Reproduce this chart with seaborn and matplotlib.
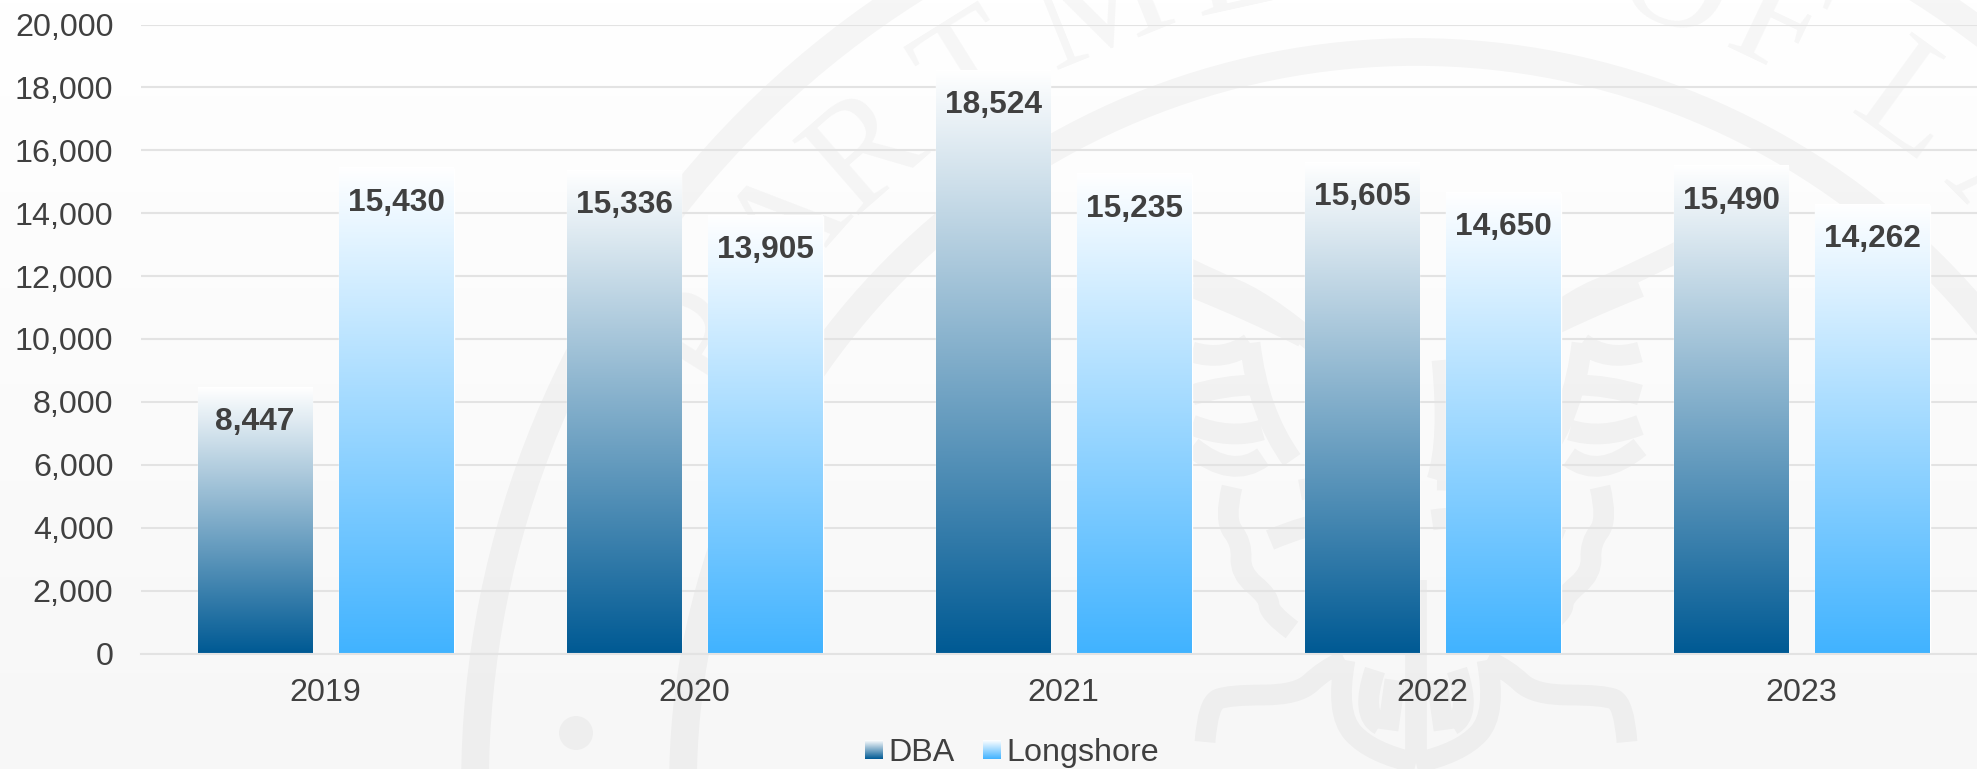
import matplotlib
matplotlib.use('Agg')
import matplotlib.pyplot as plt
import seaborn as sns
import numpy as np
import pandas as pd
from matplotlib.colors import LinearSegmentedColormap
from matplotlib.image import BboxImage
from matplotlib.legend_handler import HandlerBase
from matplotlib.patches import Circle, PathPatch
from matplotlib.path import Path
from matplotlib.transforms import Bbox, TransformedBbox

years = ['2019', '2020', '2021', '2022', '2023']
dba = [8447, 15336, 18524, 15605, 15490]
longshore = [15430, 13905, 15235, 14650, 14262]
y_ticks = list(range(0, 20001, 2000))

W, H = 1977, 769
TEXT = '#404040'
GRID = '#e3e3e3'
SEAL_X, SEAL_Y = 1416, 785
SEAL_ALPHA = 0.037

# seal letters: (letter, degrees from the top of the seal, minus is left)
seal_letters = [('P', -58), ('A', -48.5), ('R', -41), ('T', -32), ('M', -22), ('E', -12.5),
                ('N', -3.5), ('T', 6), ('O', 18), ('F', 25.5), ('L', 36), ('A', 45)]

# half of the eagle, mirrored around SEAL_X
left_strokes = [
    [(1130, 240), (1200, 275), (1272, 305), (1340, 365)],
    [(1192, 287), (1250, 310), (1303, 337)],
    [(1192, 352), (1225, 362), (1250, 343)],
    [(1192, 395), (1225, 385), (1255, 385)],
    [(1192, 425), (1230, 440), (1262, 430)],
    [(1250, 343), (1258, 413), (1292, 460)],
    [(1192, 447), (1232, 480), (1263, 457)],
    [(1232, 487), (1224, 520), (1242, 543), (1240, 573), (1269, 597), (1269, 613), (1292, 630)],
    [(1205, 742), (1208, 703), (1229, 695), (1298, 695), (1324, 670), (1345, 660)],
    [(1345, 660), (1335, 713), (1371, 753), (1416, 763)],
    [(1375, 670), (1360, 715), (1380, 725)],
    [(1395, 680), (1388, 730)],
    [(1390, 360), (1382, 440), (1395, 480)],
    [(1300, 490), (1350, 480), (1395, 480)],
    [(1270, 540), (1340, 510), (1400, 520)],
    [(1416, 580), (1416, 763)],
]


def smooth_path(pts):
    # quadratic curves through the midpoints, so the strokes have no corners
    if len(pts) < 3:
        return Path(pts)
    verts = [pts[0]]
    codes = [Path.MOVETO]
    for i in range(1, len(pts) - 1):
        end = pts[i + 1] if i == len(pts) - 2 else ((pts[i][0] + pts[i + 1][0]) / 2, (pts[i][1] + pts[i + 1][1]) / 2)
        verts += [pts[i], end]
        codes += [Path.CURVE3, Path.CURVE3]
    return Path(verts, codes)


sns.set_theme(style='white')
plt.rcParams['font.family'] = ['Liberation Sans', 'DejaVu Sans']

fig = plt.figure(figsize=(W / 100, H / 100), dpi=100)

# page background and the pale seal behind the chart
bg = fig.add_axes([0, 0, 1, 1], zorder=-1)
page = LinearSegmentedColormap.from_list('page', ['#ffffff', '#f7f7f7'])
bg.imshow(np.linspace(0, 1, 256).reshape(-1, 1), cmap=page, extent=[0, W, H, 0], aspect='auto')
bg.set_xlim(0, W)
bg.set_ylim(H, 0)
bg.axis('off')

for radius in [941, 733]:
    bg.add_patch(Circle((SEAL_X, SEAL_Y), radius, fill=False, lw=20, ec='black', alpha=SEAL_ALPHA))
bg.add_patch(Circle((576, 733), 17, fc='black', ec='none', alpha=SEAL_ALPHA))
for letter, angle in seal_letters:
    rad = np.radians(angle)
    bg.text(SEAL_X + 835 * np.sin(rad), SEAL_Y - 835 * np.cos(rad), letter, family='Liberation Serif',
            fontsize=110, rotation=-angle, rotation_mode='anchor', ha='center', va='center',
            color='black', alpha=SEAL_ALPHA)
eagle = []
for stroke in left_strokes:
    for side in [1, -1]:
        eagle.append(smooth_path([(SEAL_X + side * (x - SEAL_X), y) for x, y in stroke]))
bg.add_patch(PathPatch(Path.make_compound_path(*eagle), fill=False, lw=15, ec='black', alpha=SEAL_ALPHA,
                       capstyle='butt', joinstyle='round'))

# plot area runs a little past the right edge of the image
ax = fig.add_axes([141.2 / W, (H - 653.5) / H, 1845 / W, 629 / H])
ax.patch.set_visible(False)

df = pd.DataFrame({
    'year': years * 2,
    'count': dba + longshore,
    'series': ['DBA'] * 5 + ['Longshore'] * 5,
})
sns.barplot(data=df, x='year', y='count', hue='series', width=0.766, gap=0.188,
            palette={'DBA': '#005a94', 'Longshore': '#41b3ff'}, legend=False, ax=ax, zorder=2)

grad = np.linspace(0, 1, 256).reshape(-1, 1)
cmaps = [LinearSegmentedColormap.from_list('dba', ['#005a94', '#ffffff']),
         LinearSegmentedColormap.from_list('longshore', ['#41b3ff', '#ffffff'])]

for container, cmap in zip(ax.containers, cmaps):
    for bar in container:
        x0 = bar.get_x()
        ax.imshow(grad, cmap=cmap, origin='lower', aspect='auto', zorder=2.5,
                  extent=[x0, x0 + bar.get_width(), 0, bar.get_height()])
    ax.bar_label(container, fmt='{:,.0f}', padding=-35.5, fontsize=22.8, fontweight='bold',
                 color=TEXT, zorder=4)

ax.set_xlim(-0.5, 4.5)
ax.set_ylim(0, 20000)
ax.set_yticks(y_ticks)
ax.set_yticklabels([f'{v:,}' for v in y_ticks])
ax.set_xlabel('')
ax.set_ylabel('')
ax.grid(axis='y', color=GRID, lw=1.5)
ax.set_axisbelow(True)
ax.tick_params(axis='y', length=0, pad=20, labelsize=23.2, labelcolor=TEXT)
ax.tick_params(axis='x', length=0, pad=17.5, labelsize=23.2, labelcolor=TEXT)
for name in ['top', 'right', 'left']:
    ax.spines[name].set_visible(False)
ax.spines['bottom'].set_color(GRID)
ax.spines['bottom'].set_linewidth(1.5)


class GradientHandler(HandlerBase):
    def create_artists(self, legend, orig_handle, xdescent, ydescent, width, height, fontsize, trans):
        box = TransformedBbox(Bbox.from_bounds(-xdescent, -ydescent, width, height), trans)
        swatch = BboxImage(box, cmap=orig_handle.cmap, origin='lower')
        swatch.set_data(grad)
        return [swatch]


class GradientKey:
    def __init__(self, cmap):
        self.cmap = cmap


fig.legend([GradientKey(c) for c in cmaps], ['DBA', 'Longshore'],
           handler_map={GradientKey: GradientHandler()},
           loc='center', bbox_to_anchor=(1012 / W, 1 - 753 / H), ncol=2, frameon=False,
           fontsize=23.2, labelcolor=TEXT, handlelength=0.53, handleheight=0.53,
           handletextpad=0.2, columnspacing=0.85, borderpad=0, borderaxespad=0)

plt.savefig('out.png', dpi=100)
plt.close()
